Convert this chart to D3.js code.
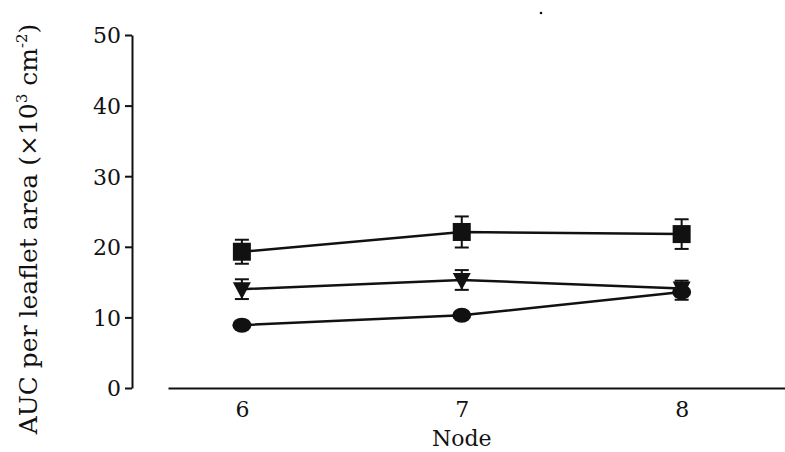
<!DOCTYPE html>
<html>
<head>
<meta charset="utf-8">
<script src="https://cdn.jsdelivr.net/npm/d3@7"></script>
<style>
  html, body { margin: 0; padding: 0; background: #fff; }
  svg { display: block; }
  text { font-family: "DejaVu Serif", "Liberation Serif", serif; fill: #111; }
</style>
</head>
<body>
<svg id="chart" width="785" height="452"></svg>
<script>
// Node positions along the stem
const nodes = [6, 7, 8];
const yTicks = [0, 10, 20, 30, 40, 50];

// AUC per leaflet area (x10^3 cm^-2), mean and error for each treatment
const squareMean = [19.3, 22.1, 21.8];
const squareErr  = [1.7, 2.2, 2.1];
const triangleMean = [14.0, 15.3, 14.1];
const triangleErr  = [1.4, 1.4, 1.1];
const circleMean = [8.9, 10.3, 13.6];
const circleErr  = [0.3, 0.4, 1.1];

const series = [
  { shape: "square", mean: squareMean, err: squareErr },
  { shape: "triangle", mean: triangleMean, err: triangleErr },
  { shape: "circle", mean: circleMean, err: circleErr }
];

const svg = d3.select("#chart");
const ink = "#111";
const serif = "DejaVu Serif, Liberation Serif, serif";

const x = d3.scaleLinear().domain([5.664, 8.47]).range([168, 785]);
const y = d3.scaleLinear().domain([0, 50]).range([388, 35]);

// Y axis with outward ticks
const yAxis = svg.append("g")
  .attr("transform", "translate(132,0)")
  .call(d3.axisLeft(y).tickValues(yTicks).tickSize(7).tickSizeOuter(0).tickPadding(4));
yAxis.select(".domain").attr("stroke", ink).attr("stroke-width", 2);
yAxis.selectAll(".tick line").attr("stroke", ink).attr("stroke-width", 2);
yAxis.selectAll(".tick text")
  .attr("font-size", 22)
  .attr("font-family", serif)
  .attr("fill", ink)
  .attr("dy", "0.36em");

// X axis: plain baseline, labels under each node
const xAxis = svg.append("g")
  .attr("transform", "translate(0,388)")
  .call(d3.axisBottom(x).tickValues(nodes).tickSize(0).tickSizeOuter(0).tickPadding(13).tickFormat(d3.format("d")));
xAxis.select(".domain").attr("stroke", ink).attr("stroke-width", 2);
xAxis.selectAll(".tick text")
  .attr("font-size", 22)
  .attr("font-family", serif)
  .attr("fill", ink);

// Axis titles
svg.append("text")
  .attr("x", x(7))
  .attr("y", 446)
  .attr("text-anchor", "middle")
  .attr("font-size", 22)
  .text("Node");

const yTitle = svg.append("text")
  .attr("transform", "translate(37,229) rotate(-90)")
  .attr("text-anchor", "middle")
  .attr("font-size", 25);
yTitle.append("tspan").text("AUC per leaflet area (×10");
yTitle.append("tspan").attr("font-size", 15).attr("dy", -10).text("3");
yTitle.append("tspan").attr("dy", 10).text(" cm");
yTitle.append("tspan").attr("font-size", 15).attr("dy", -10).text("-2");
yTitle.append("tspan").attr("dy", 10).text(")");

const line = d3.line().x((d, i) => x(nodes[i])).y(d => y(d));

series.forEach(s => {
  const g = svg.append("g");
  // error bars
  s.mean.forEach((m, i) => {
    const cx = x(nodes[i]);
    const e = s.err[i];
    if (e <= 0.35) return;
    g.append("line").attr("x1", cx).attr("x2", cx)
      .attr("y1", y(m + e)).attr("y2", y(m - e))
      .attr("stroke", ink).attr("stroke-width", 2);
    [m + e, m - e].forEach(v => {
      g.append("line").attr("x1", cx - 7).attr("x2", cx + 7)
        .attr("y1", y(v)).attr("y2", y(v))
        .attr("stroke", ink).attr("stroke-width", 2);
    });
  });
  // connecting line
  g.append("path").datum(s.mean)
    .attr("d", line).attr("fill", "none")
    .attr("stroke", ink).attr("stroke-width", 2.5);
  // markers
  s.mean.forEach((m, i) => {
    const cx = x(nodes[i]), cy = y(m);
    if (s.shape === "square") {
      g.append("rect").attr("x", cx - 9).attr("y", cy - 9)
        .attr("width", 18).attr("height", 18).attr("fill", ink);
    } else if (s.shape === "triangle") {
      g.append("path")
        .attr("d", `M${cx - 9},${cy - 7} L${cx + 9},${cy - 7} L${cx},${cy + 10} Z`)
        .attr("fill", ink);
    } else {
      g.append("ellipse").attr("cx", cx).attr("cy", cy)
        .attr("rx", 9.5).attr("ry", 7.5).attr("fill", ink);
    }
  });
});

// small stray dot near the top edge
svg.append("circle").attr("cx", 541).attr("cy", 13).attr("r", 1.3).attr("fill", ink);
</script>
</body>
</html>
